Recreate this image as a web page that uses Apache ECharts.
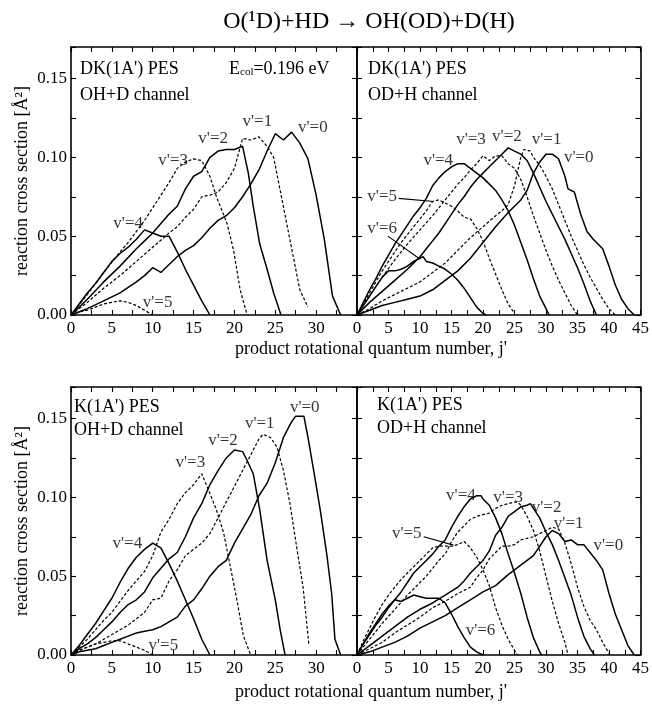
<!DOCTYPE html>
<html>
<head>
<meta charset="utf-8">
<script src="https://cdn.jsdelivr.net/npm/echarts@6/dist/echarts.min.js"></script>
<style>html,body{margin:0;padding:0;background:#fff}#c{width:652px;height:704px}</style>
</head>
<body>
<div id="c"></div>
<script>
// ---------- DATA: [j', cross section (Å^2)] ----------
// DK(1A') PES, OH+D channel
const TL_V0 = [[0,0],[2,0.004],[4,0.009],[6,0.014],[8,0.021],[9,0.025],[10,0.030],[11,0.027],[12,0.032],[13,0.037],[14,0.041],[15,0.044],[16,0.049],[17,0.055],[18,0.060],[19,0.063],[20,0.068],[21,0.075],[22,0.083],[23,0.092],[24,0.104],[25,0.115],[26,0.111],[27,0.116],[28,0.109],[29,0.099],[30,0.076],[31,0.048],[32,0.012],[33,0]];
const TL_V1 = [[0,0],[2,0.008],[4,0.017],[6,0.025],[8,0.034],[10,0.043],[12,0.052],[13,0.056],[14,0.062],[15,0.067],[16,0.075],[17,0.076],[18,0.078],[19,0.084],[20,0.093],[21,0.112],[22,0.111],[23,0.113],[24,0.107],[24.8,0.100],[25.6,0.079],[26.4,0.058],[27.2,0.037],[28,0.016],[29,0.005]];
const TL_V2 = [[0,0],[2,0.010],[4,0.021],[6,0.031],[8,0.042],[9,0.047],[10,0.052],[11,0.058],[12,0.064],[13,0.069],[14,0.080],[15,0.088],[16,0.091],[17,0.100],[18,0.104],[19,0.105],[20,0.105],[21,0.107],[21.7,0.090],[22.3,0.069],[23.1,0.045],[24,0.029],[24.8,0.014],[25.7,0]];
const TL_V3 = [[0,0],[2,0.013],[4,0.027],[6,0.040],[7,0.046],[8,0.053],[9,0.060],[10,0.068],[11,0.076],[12,0.084],[13,0.093],[14,0.097],[15,0.099],[16,0.098],[17,0.088],[17.8,0.075],[19.1,0.058],[19.9,0.041],[20.7,0.016],[21.5,0.001]];
const TL_V4 = [[0,0],[1,0.007],[2,0.014],[3,0.020],[4,0.027],[5,0.034],[6,0.039],[7,0.043],[8,0.048],[9,0.054],[10,0.052],[11,0.050],[12,0.050],[13,0.040],[14,0.029],[15,0.019],[16,0.009],[17,0]];
const TL_V5 = [[0,0],[1,0.002],[2,0.003],[3,0.005],[4,0.007],[5,0.008],[6,0.009],[7,0.008],[8,0.006],[9,0.003],[10,0]];

// DK(1A') PES, OD+H channel
const TR_V0 = [[0,0],[2,0.003],[4,0.006],[6,0.008],[8,0.010],[10,0.012],[12,0.016],[14,0.022],[16,0.028],[18,0.036],[20,0.046],[22,0.056],[24,0.065],[25,0.069],[26,0.073],[27,0.079],[28,0.090],[29,0.097],[30,0.102],[31,0.102],[32,0.099],[33,0.088],[33.5,0.080],[34.5,0.078],[35.5,0.064],[36.5,0.053],[37.5,0.048],[39,0.042],[40,0.031],[41,0.019],[42,0.010],[43,0.004],[44,0]];
const TR_V1 = [[0,0],[2,0.004],[4,0.009],[6,0.013],[8,0.017],[10,0.021],[12,0.027],[14,0.033],[16,0.041],[18,0.049],[20,0.056],[22,0.063],[23,0.066],[24,0.070],[25,0.082],[26,0.100],[26.5,0.105],[27.5,0.104],[28,0.100],[29,0.095],[30,0.088],[31,0.080],[32,0.070],[33,0.060],[34,0.050],[35,0.041],[36,0.032],[37,0.024],[38,0.017],[39,0.010],[40,0.004],[41,0]];
const TR_V2 = [[0,0],[2,0.008],[4,0.015],[6,0.022],[8,0.029],[10,0.037],[11,0.042],[12,0.047],[13,0.052],[14,0.058],[15,0.064],[16,0.070],[17,0.075],[18,0.081],[19,0.086],[20,0.090],[21,0.094],[22,0.098],[23,0.102],[24,0.106],[25,0.104],[26,0.102],[27,0.098],[28,0.090],[29,0.081],[30,0.072],[31,0.064],[32,0.056],[33,0.048],[34,0.039],[35,0.030],[36,0.020],[37,0.009],[38,0]];
const TR_V3 = [[0,0],[2,0.012],[4,0.024],[6,0.035],[8,0.045],[10,0.054],[12,0.063],[13,0.068],[14,0.073],[15,0.078],[16,0.083],[17,0.087],[18,0.092],[19,0.096],[20,0.101],[21,0.098],[22,0.101],[23,0.101],[24,0.096],[25,0.093],[26,0.086],[27,0.075],[28,0.063],[29,0.052],[30,0.041],[31,0.031],[32,0.022],[33,0.014],[34,0.006],[35,0]];
const TR_V4 = [[0,0],[1,0.008],[2,0.016],[3,0.023],[4,0.031],[5,0.038],[6,0.045],[7,0.051],[8,0.057],[9,0.063],[10,0.068],[11,0.074],[12,0.082],[13,0.087],[14,0.091],[15,0.094],[16,0.096],[17,0.096],[18,0.093],[19,0.090],[20,0.087],[21,0.083],[22,0.079],[23,0.073],[24,0.066],[25,0.057],[26,0.046],[27,0.035],[28,0.023],[29,0.012],[30,0.004],[30.5,0]];
const TR_V5 = [[0,0],[1,0.007],[2,0.014],[3,0.021],[4,0.028],[5,0.034],[6,0.040],[7,0.046],[8,0.051],[9,0.056],[10,0.061],[11,0.066],[12,0.072],[13,0.073],[14,0.071],[15,0.069],[16,0.066],[17,0.062],[18,0.061],[19,0.055],[20,0.047],[21,0.036],[22,0.026],[23,0.016],[24,0.007],[25,0.001]];
const TR_V6 = [[0,0],[1,0.006],[2,0.012],[3,0.018],[4,0.024],[5,0.028],[6,0.028],[7,0.029],[8,0.031],[9,0.034],[10,0.036],[10.5,0.037],[11,0.034],[12,0.033],[13,0.031],[14,0.029],[15,0.026],[16,0.022],[17,0.017],[18,0.011],[19,0.005],[20,0.001],[20.5,0]];

// K(1A') PES, OH+D channel
const BL_V0 = [[0,0],[1,0.002],[2,0.003],[3,0.004],[4,0.006],[5,0.008],[6,0.010],[7,0.012],[8,0.014],[9,0.015],[10,0.016],[11,0.018],[12,0.021],[13,0.024],[14,0.031],[15,0.035],[16,0.042],[17,0.050],[18,0.056],[19,0.060],[20,0.071],[21,0.080],[22,0.089],[23,0.101],[24,0.109],[25,0.122],[26,0.138],[27,0.148],[27.5,0.1515],[28.5,0.1515],[29,0.138],[29.7,0.117],[30.5,0.092],[31.3,0.064],[31.9,0.039],[32.3,0.010],[33,0]];
const BL_V1 = [[0,0],[1,0.003],[2,0.005],[3,0.007],[4,0.010],[5,0.013],[6,0.016],[7,0.019],[8,0.023],[9,0.027],[10,0.035],[11,0.036],[12,0.047],[13,0.054],[14,0.063],[15,0.067],[16,0.071],[17,0.077],[18,0.087],[19,0.097],[20,0.107],[21,0.117],[22,0.127],[23,0.137],[23.5,0.140],[24.4,0.138],[25.2,0.132],[26,0.117],[26.8,0.096],[27.6,0.069],[28.4,0.043],[29.1,0.007]];
const BL_V2 = [[0,0],[1,0.004],[2,0.007],[3,0.011],[4,0.016],[5,0.021],[6,0.027],[7,0.032],[8,0.035],[9,0.040],[10,0.049],[11,0.055],[12,0.061],[13,0.065],[14,0.075],[15,0.087],[16,0.096],[17,0.108],[18,0.117],[19,0.125],[20,0.130],[21,0.129],[21.5,0.124],[22.3,0.115],[23.1,0.092],[24,0.060],[25,0.035],[25.6,0.016],[26.2,0]];
const BL_V3 = [[0,0],[1,0.005],[2,0.010],[3,0.016],[4,0.022],[5,0.027],[6,0.034],[7,0.041],[8,0.047],[9,0.053],[10,0.063],[11,0.078],[12,0.086],[13,0.096],[14,0.103],[15,0.108],[16,0.115],[16.8,0.105],[17.8,0.092],[18.7,0.077],[19.5,0.056],[20.3,0.035],[21.1,0.012],[22,0]];
const BL_V4 = [[0,0],[1,0.006],[2,0.013],[3,0.020],[4,0.028],[5,0.036],[6,0.046],[7,0.055],[8,0.062],[9,0.067],[10,0.071],[11,0.068],[12,0.058],[13,0.047],[14,0.035],[15,0.023],[16,0.010],[17,0]];
const BL_V5 = [[0,0],[1,0.003],[2,0.005],[3,0.007],[4,0.008],[5,0.009],[6,0.009],[7,0.007],[8,0.005],[9,0.003],[10,0]];

// K(1A') PES, OD+H channel
const BR_V0 = [[0,0],[2,0.002],[4,0.005],[6,0.008],[8,0.012],[10,0.017],[12,0.021],[14,0.025],[16,0.030],[18,0.035],[20,0.040],[22,0.044],[24,0.051],[26,0.057],[27,0.060],[28,0.063],[29,0.069],[30,0.075],[31,0.079],[32,0.077],[33,0.072],[34,0.073],[35,0.070],[36,0.070],[37,0.065],[38,0.060],[39,0.054],[40,0.039],[41,0.026],[42,0.016],[43,0.006],[44,0]];
const BR_V1 = [[0,0],[2,0.004],[4,0.008],[6,0.014],[8,0.019],[10,0.024],[12,0.030],[14,0.034],[16,0.039],[17,0.041],[18,0.043],[19,0.049],[20,0.054],[21,0.061],[22,0.065],[23,0.069],[24,0.069],[25,0.070],[26,0.073],[27,0.074],[28,0.075],[29,0.077],[30,0.079],[31,0.081],[32,0.080],[33,0.071],[34,0.058],[35,0.043],[36,0.031],[37,0.022],[38,0.016],[39,0.008],[40,0.001]];
const BR_V2 = [[0,0],[2,0.006],[4,0.012],[6,0.018],[8,0.024],[10,0.029],[12,0.033],[14,0.038],[16,0.043],[17,0.047],[18,0.052],[19,0.056],[20,0.060],[21,0.066],[22,0.076],[23,0.081],[24,0.088],[25,0.091],[26,0.094],[27,0.095],[27.5,0.096],[28,0.093],[29,0.087],[30,0.078],[31,0.070],[32,0.060],[33,0.049],[34,0.038],[35,0.024],[36,0.012],[37,0.004],[37.7,0]];
const BR_V3 = [[0,0],[2,0.010],[4,0.020],[6,0.029],[8,0.038],[10,0.046],[11,0.050],[12,0.055],[13,0.060],[14,0.064],[15,0.072],[16,0.078],[17,0.082],[18,0.086],[19,0.088],[20,0.089],[21,0.090],[22,0.093],[23,0.095],[24,0.096],[25,0.097],[25.5,0.097],[26,0.095],[27,0.088],[28,0.079],[29,0.066],[30,0.050],[31,0.034],[32,0.020],[33,0.008],[33.5,0]];
const BR_V4 = [[0,0],[1,0.007],[2,0.013],[3,0.019],[4,0.024],[5,0.030],[6,0.035],[7,0.040],[8,0.046],[9,0.052],[10,0.056],[11,0.060],[12,0.064],[13,0.069],[14,0.073],[15,0.081],[16,0.088],[17,0.094],[18,0.099],[19,0.101],[19.7,0.101],[20,0.099],[21,0.095],[22,0.087],[23,0.077],[24,0.064],[25,0.052],[26,0.039],[27,0.024],[28,0.011],[29,0.002],[29.3,0]];
const BR_V5 = [[0,0],[1,0.009],[2,0.017],[3,0.025],[4,0.032],[5,0.038],[6,0.043],[7,0.048],[8,0.052],[9,0.056],[10,0.060],[11,0.064],[12,0.068],[13,0.069],[14,0.069],[15,0.069],[16,0.070],[17,0.072],[18,0.068],[19,0.062],[20,0.054],[21,0.044],[22,0.030],[23,0.019],[24,0.010],[25,0.003],[25.5,0]];
const BR_V6 = [[0,0],[1,0.007],[2,0.014],[3,0.020],[4,0.026],[5,0.031],[6,0.035],[7,0.034],[8,0.036],[9,0.038],[10,0.037],[11,0.036],[12,0.036],[13,0.036],[14,0.033],[15,0.026],[16,0.018],[17,0.011],[18,0.005],[19,0.002],[20,0]];

// curve labels (text, anchor j', anchor value)
const TL_LABELS = [["v'=0",29.6,0.119],["v'=1",22.8,0.1225],["v'=2",17.4,0.112],["v'=3",12.5,0.098],["v'=4",7.0,0.058],["v'=5",10.6,0.008]];
const TR_LABELS = [["v'=0",35.2,0.100],["v'=1",30.1,0.111],["v'=2",23.8,0.113],["v'=3",18.1,0.111],["v'=4",12.9,0.0977],["v'=5",4.0,0.075],["v'=6",4.0,0.055]];
const BL_LABELS = [["v'=0",28.6,0.157],["v'=1",23.1,0.147],["v'=2",18.6,0.136],["v'=3",14.6,0.122],["v'=4",6.9,0.071],["v'=5",11.3,0.0063]];
const BR_LABELS = [["v'=0",39.9,0.0697],["v'=1",33.6,0.0837],["v'=2",30.1,0.0938],["v'=3",24.0,0.100],["v'=4",16.5,0.1014],["v'=5",7.9,0.0773],["v'=6",19.6,0.0158]];
const TR_LEADERS = [[[6.6,0.074],[12.2,0.072]],[[4.9,0.050],[9.8,0.036]]];
const BR_LEADERS = [[[10.6,0.075],[15.3,0.0697]]];

const X_MAX = [35, 45, 35, 45];
const Y_TICKS = ['0.00','0.05','0.10','0.15'];

// ---------- CHART ----------
const FONT = '"Liberation Serif","Times New Roman",serif';
const chart = echarts.init(document.getElementById('c'), null, {renderer:'canvas'});

const GRIDS = [
  {left:71, top:47, width:286, height:268},
  {left:357, top:47, width:289, height:268},
  {left:71, top:387, width:286, height:268},
  {left:357, top:387, width:289, height:268}
];
const PANELS = [
  {curves:[TL_V0,TL_V1,TL_V2,TL_V3,TL_V4,TL_V5], labels:TL_LABELS, leaders:[]},
  {curves:[TR_V0,TR_V1,TR_V2,TR_V3,TR_V4,TR_V5,TR_V6], labels:TR_LABELS, leaders:TR_LEADERS},
  {curves:[BL_V0,BL_V1,BL_V2,BL_V3,BL_V4,BL_V5], labels:BL_LABELS, leaders:[]},
  {curves:[BR_V0,BR_V1,BR_V2,BR_V3,BR_V4,BR_V5,BR_V6], labels:BR_LABELS, leaders:BR_LEADERS}
];

const axisLine = {show:true, onZero:false, lineStyle:{color:'#000', width:1.6}};
const tick = {show:true, inside:true, length:5, lineStyle:{color:'#000', width:1.1}};
const xAxes = [], yAxes = [], series = [];

GRIDS.forEach((g, i) => {
  const xmax = X_MAX[i];
  const isLeft = (i % 2 === 0);
  xAxes.push({
    gridIndex:i, type:'value', position:'bottom', min:0, max:xmax, interval:2.5,
    axisLine, axisTick:tick, splitLine:{show:false},
    axisLabel:{show:true, margin:5, color:'#000', fontSize:17, fontFamily:FONT,
      formatter: v => (Math.abs(v % 5) < 1e-9 && !(isLeft && v >= 35)) ? String(v) : ''}
  });
  xAxes.push({
    gridIndex:i, type:'value', position:'top', min:0, max:xmax, interval:2.5,
    axisLine, axisTick:tick, splitLine:{show:false}, axisLabel:{show:false}
  });
  yAxes.push({
    gridIndex:i, type:'value', position:'left', min:0, max:0.17, interval:0.025,
    axisLine, axisTick:tick, splitLine:{show:false},
    axisLabel:{show:isLeft, margin:4, color:'#000', fontSize:17, fontFamily:FONT,
      formatter: v => { const k = Math.round(v*1000); return (k % 50 === 0 && k <= 150) ? Y_TICKS[k/50] : ''; }}
  });
  yAxes.push({
    gridIndex:i, type:'value', position:'right', min:0, max:0.17, interval:0.025,
    axisLine, axisTick:tick, splitLine:{show:false}, axisLabel:{show:false}
  });
  const xi = 2*i, yi = 2*i;
  const p = PANELS[i];
  p.curves.forEach((data, v) => {
    series.push({
      type:'line', xAxisIndex:xi, yAxisIndex:yi, data, symbol:'none', silent:true,
      animation:false,
      lineStyle:{color:'#000', width: v % 2 === 0 ? 1.5 : 1.2, type: v % 2 === 0 ? 'solid' : [3,2]}
    });
  });
  p.leaders.forEach(seg => {
    series.push({type:'line', xAxisIndex:xi, yAxisIndex:yi, data:seg, symbol:'none',
      animation:false, lineStyle:{color:'#000', width:1.1}});
  });
  series.push({
    type:'scatter', xAxisIndex:xi, yAxisIndex:yi, symbolSize:1, animation:false,
    itemStyle:{color:'rgba(0,0,0,0)'},
    data: p.labels.map(l => ({name:l[0], value:[l[1], l[2]]})),
    label:{show:true, position:'inside', formatter:'{b}', color:'#000', fontSize:17, fontFamily:FONT}
  });
});

const T = (x, y, text, extra) => ({type:'text', x, y, silent:true,
  style:Object.assign({text, fill:'#000', fontSize:18, fontFamily:FONT}, extra || {})});

const graphic = [
  T(369, 22, 'O(\u00B9D)+HD \u2192 OH(OD)+D(H)', {fontSize:24, textAlign:'center', textVerticalAlign:'middle'}),
  T(80, 60, "DK(1A') PES"),
  T(80, 86, 'OH+D channel'),
  {type:'text', x:229, y:58, silent:true, style:{text:'{a|E}{b|col}{a|=0.196 eV}', fill:'#000', fontFamily:FONT,
    rich:{a:{fontSize:18, fontFamily:FONT, lineHeight:20, verticalAlign:'bottom'},
          b:{fontSize:11, fontFamily:FONT, lineHeight:4, verticalAlign:'bottom'}}}},
  T(368, 60, "DK(1A') PES"),
  T(368, 86, 'OD+H channel'),
  T(74, 398, "K(1A') PES"),
  T(74, 421, 'OH+D channel'),
  T(377, 396, "K(1A') PES"),
  T(377, 419, 'OD+H channel'),
  T(371, 349, "product rotational quantum number, j'", {fontSize:18, textAlign:'center', textVerticalAlign:'middle'}),
  T(371, 692, "product rotational quantum number, j'", {fontSize:18, textAlign:'center', textVerticalAlign:'middle'}),
  Object.assign(T(22, 181, 'reaction cross section [\u00C5\u00B2]', {textAlign:'center', textVerticalAlign:'middle'}), {rotation:Math.PI/2}),
  Object.assign(T(22, 521, 'reaction cross section [\u00C5\u00B2]', {textAlign:'center', textVerticalAlign:'middle'}), {rotation:Math.PI/2})
];

chart.setOption({
  backgroundColor:'#fff',
  animation:false,
  grid: GRIDS.map(g => Object.assign({containLabel:false}, g)),
  xAxis: xAxes,
  yAxis: yAxes,
  series,
  graphic
});
</script>
</body>
</html>
